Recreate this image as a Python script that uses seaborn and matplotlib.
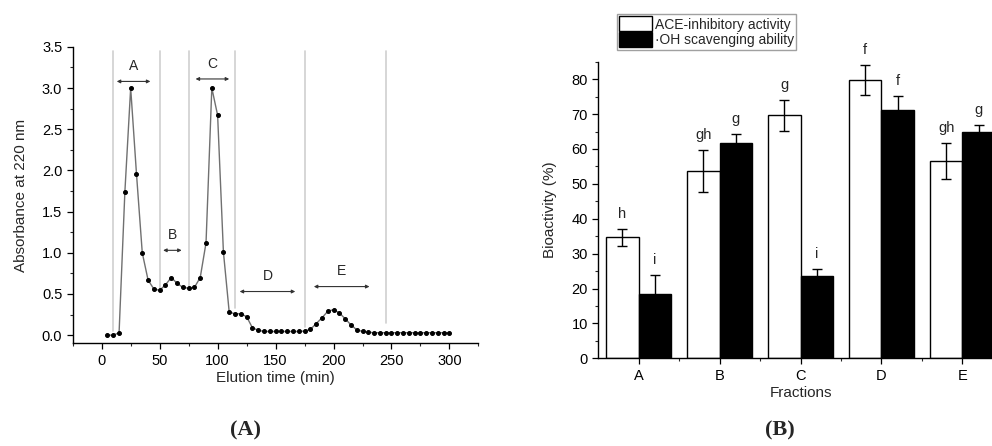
import matplotlib
matplotlib.use("Agg")
import matplotlib.pyplot as plt
from matplotlib.patches import Patch
from matplotlib.ticker import MultipleLocator, FixedLocator, FormatStrFormatter
import seaborn as sns
import pandas as pd

# ==============================
# 1. Data
# ==============================
# (A) elution profile
elution_time = [5, 10, 15, 20, 25, 30, 35, 40, 45, 50,
                55, 60, 65, 70, 75, 80, 85, 90, 95, 100,
                105, 110, 115, 120, 125, 130, 135, 140, 145, 150,
                155, 160, 165, 170, 175, 180, 185, 190, 195, 200,
                205, 210, 215, 220, 225, 230, 235, 240, 245, 250,
                255, 260, 265, 270, 275, 280, 285, 290, 295, 300]
absorbance = [0.00, 0.00, 0.03, 1.74, 3.00, 1.96, 1.00, 0.67, 0.56, 0.545,
              0.61, 0.70, 0.63, 0.58, 0.57, 0.58, 0.70, 1.12, 3.00, 2.67,
              1.01, 0.28, 0.26, 0.26, 0.225, 0.09, 0.06, 0.045, 0.045, 0.045,
              0.045, 0.045, 0.045, 0.045, 0.05, 0.07, 0.14, 0.21, 0.29, 0.31,
              0.27, 0.20, 0.125, 0.065, 0.045, 0.035, 0.03, 0.03, 0.03, 0.03,
              0.03, 0.03, 0.03, 0.03, 0.03, 0.03, 0.03, 0.03, 0.03, 0.03]

# fraction borders (gray lines) and their lower ends
borders = [10, 50, 75, 115, 175, 245]
border_bottoms = [0.05, 0.57, 0.57, 0.33, 0.10, 0.15]

# fraction arrows: label, start, end, arrow level
frac_names = ["A", "B", "C", "D", "E"]
frac_start = [13, 53, 81, 119, 183]
frac_end = [42, 69, 110, 167, 231]
frac_level = [3.08, 1.03, 3.11, 0.53, 0.59]

# (B) bioactivity of the fractions
fractions = ["A", "B", "C", "D", "E"]
ace_mean = [34.7, 53.7, 69.6, 79.7, 56.6]
ace_err = [2.4, 6.0, 4.5, 4.3, 5.2]
oh_mean = [18.5, 61.8, 23.5, 71.1, 64.8]
oh_err = [5.4, 2.5, 2.1, 4.0, 2.0]
ace_letters = ["h", "gh", "g", "f", "gh"]
oh_letters = ["i", "g", "i", "f", "g"]

series_names = ["ACE-inhibitory activity", "\u00b7OH scavenging ability"]

# ==============================
# 2. Figure setup
# ==============================
sns.set_style("ticks")
plt.rcParams["font.family"] = ["Liberation Sans", "DejaVu Sans"]

fig = plt.figure(figsize=(9.92, 4.46), dpi=100)
ax1 = fig.add_axes([0.0733, 0.230, 0.409, 0.665])
ax2 = fig.add_axes([0.603, 0.1966, 0.408, 0.665])

# ==============================
# 3. (A) Elution profile
# ==============================
prof = pd.DataFrame({"time": elution_time, "abs": absorbance})
sns.lineplot(data=prof, x="time", y="abs", ax=ax1, color="#707070", lw=1.0,
             marker="o", markersize=2.8, markerfacecolor="black",
             markeredgecolor="black", zorder=3)

for xb, yb in zip(borders, border_bottoms):
    ax1.plot([xb, xb], [yb, 3.45], color="#cfcfcf", lw=1.2, zorder=1)

for name, x0, x1, lvl in zip(frac_names, frac_start, frac_end, frac_level):
    ax1.annotate("", xy=(x1, lvl), xytext=(x0, lvl),
                 arrowprops=dict(arrowstyle="<|-|>", lw=0.8, color="#333333",
                                 mutation_scale=5, shrinkA=0, shrinkB=0))
    ax1.text((x0 + x1) / 2, lvl + 0.1, name, ha="center", va="bottom",
             fontsize=10)

ax1.set_xlim(-25, 325)
ax1.set_ylim(-0.1, 3.5)
ax1.xaxis.set_major_locator(MultipleLocator(50))
ax1.xaxis.set_minor_locator(MultipleLocator(25))
ax1.yaxis.set_major_locator(MultipleLocator(0.5))
ax1.yaxis.set_minor_locator(MultipleLocator(0.25))
ax1.yaxis.set_major_formatter(FormatStrFormatter("%.1f"))
ax1.set_xlabel("Elution time (min)", fontsize=11, labelpad=2)
ax1.set_ylabel("Absorbance at 220 nm", fontsize=11, labelpad=10)
ax1.tick_params(which="major", length=4, width=0.9, labelsize=10.5,
                direction="out", colors="black")
ax1.tick_params(which="minor", length=2.5, width=0.8, direction="out")
sns.despine(ax=ax1)
for sp in ["left", "bottom"]:
    ax1.spines[sp].set_linewidth(1.0)
    ax1.spines[sp].set_color("black")

# ==============================
# 4. (B) Bioactivity bars
# ==============================
bio = pd.DataFrame({
    "fraction": fractions * 2,
    "value": ace_mean + oh_mean,
    "series": [series_names[0]] * len(fractions) + [series_names[1]] * len(fractions),
})
sns.barplot(data=bio, x="fraction", y="value", hue="series", ax=ax2,
            palette=["white", "black"], edgecolor="black", linewidth=1.0,
            errorbar=None, legend=False, width=0.8, saturation=1)

for cont, means, errs, letters in zip(ax2.containers, [ace_mean, oh_mean],
                                      [ace_err, oh_err],
                                      [ace_letters, oh_letters]):
    centers = [b.get_x() + b.get_width() / 2 for b in cont]
    ax2.errorbar(centers, means, yerr=errs, fmt="none", ecolor="black",
                 elinewidth=1.0, capsize=3.5, capthick=1.0, zorder=4)
    for cx, m, e, lt in zip(centers, means, errs, letters):
        ax2.text(cx, m + e + 2.3, lt, ha="center", va="bottom", fontsize=10.5)

ax2.set_xlim(-0.5, 4.5)
ax2.set_ylim(0, 85)
ax2.yaxis.set_major_locator(MultipleLocator(10))
ax2.yaxis.set_minor_locator(MultipleLocator(5))
ax2.xaxis.set_minor_locator(FixedLocator([0.5, 1.5, 2.5, 3.5]))
ax2.set_xlabel("Fractions", fontsize=11, labelpad=2)
ax2.set_ylabel("Bioactivity (%)", fontsize=11, labelpad=10)
ax2.tick_params(which="major", length=4, width=0.9, labelsize=10.5,
                direction="out", colors="black")
ax2.tick_params(which="minor", length=2.5, width=0.8, direction="out")
sns.despine(ax=ax2)
for sp in ["left", "bottom"]:
    ax2.spines[sp].set_linewidth(1.0)
    ax2.spines[sp].set_color("black")

handles = [Patch(facecolor="white", edgecolor="black", lw=1.0),
           Patch(facecolor="black", edgecolor="black", lw=1.0)]
leg = fig.legend(handles, series_names, loc="upper left",
                 bbox_to_anchor=(0.622, 0.968), fontsize=10, frameon=True,
                 fancybox=False, edgecolor="#888888", borderpad=0.15,
                 labelspacing=0.05, handlelength=2.4, handleheight=1.3,
                 handletextpad=0.2, borderaxespad=0)
leg.get_frame().set_linewidth(1.0)

# panel labels
fig.text(0.2477, 0.034, "(A)", ha="center", va="center", fontsize=16,
         fontweight="bold", family=["Liberation Serif", "DejaVu Serif"])
fig.text(0.786, 0.034, "(B)", ha="center", va="center", fontsize=16,
         fontweight="bold", family=["Liberation Serif", "DejaVu Serif"])

fig.savefig("out.png", dpi=100, facecolor="white")
plt.close(fig)
